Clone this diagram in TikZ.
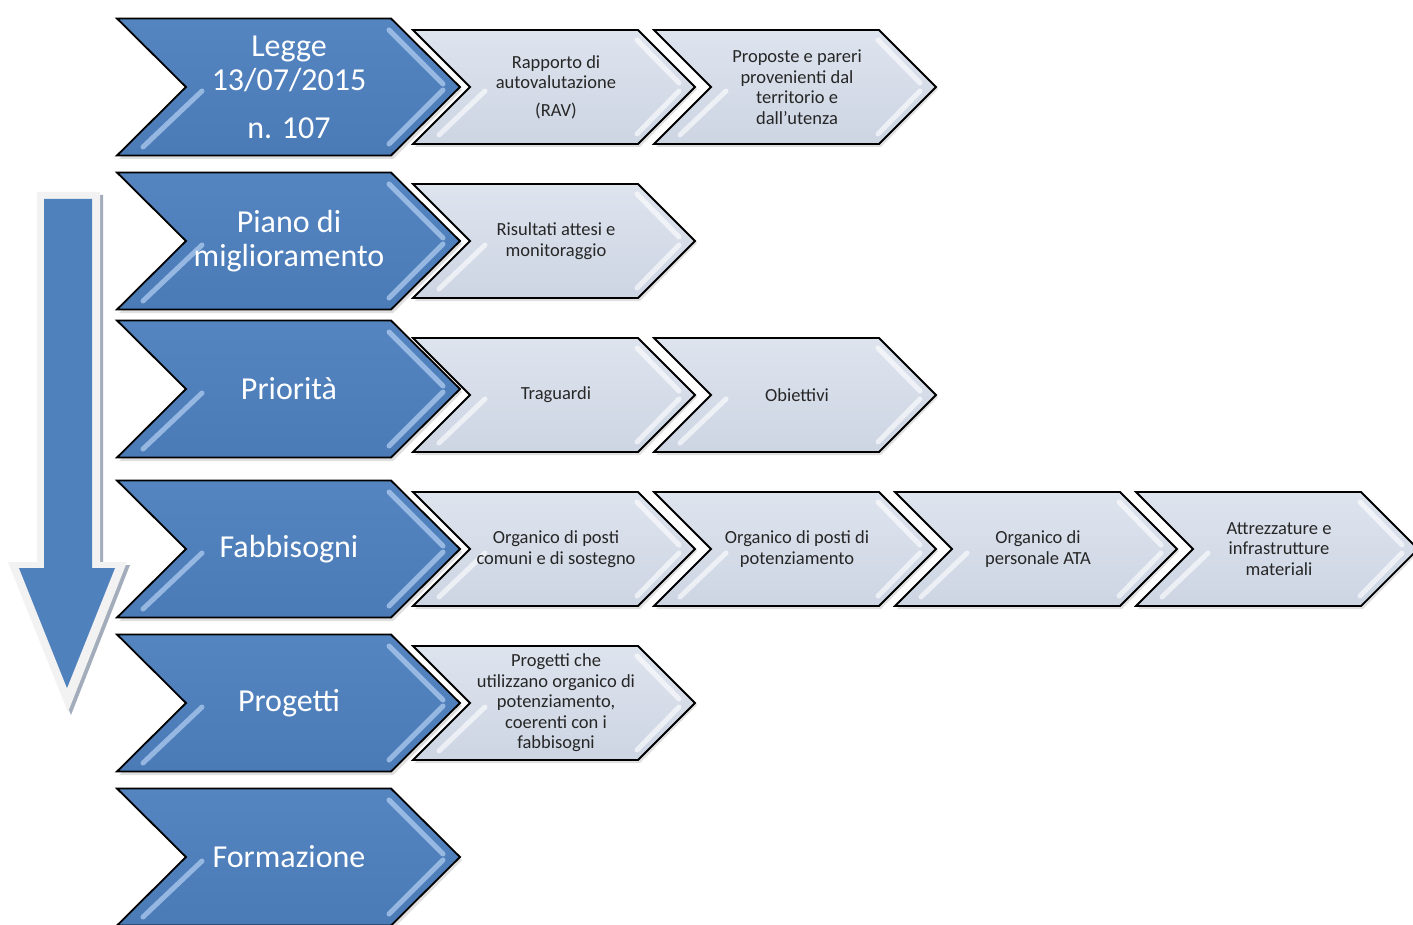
\documentclass[tikz,border=0pt]{standalone}
\usepackage{fontspec}
\setmainfont{Carlito}
\usetikzlibrary{calc}
\definecolor{cblue}{HTML}{4F81BD}
\definecolor{cbluetop}{HTML}{5585C1}
\definecolor{cbluebot}{HTML}{4A7BB7}
\definecolor{chigh}{HTML}{B4D0F2}
\definecolor{ltop}{HTML}{DEE4EE}
\definecolor{lbot}{HTML}{CDD5E3}
\definecolor{ctext}{HTML}{262626}
\definecolor{arrborder}{HTML}{F2F2F2}
\definecolor{arrshadow}{HTML}{A3ACBA}
\tikzset{
  bigchev/.style={draw=black,line width=1.8pt,line join=miter,top color=cbluetop,bottom color=cbluebot},
  smallchev/.style={draw=black,line width=1.8pt,line join=miter,top color=ltop,bottom color=lbot},
  chevshadow/.style={fill=black,opacity=0.12},
  bighl/.style={draw=chigh,line width=5pt,line cap=round,opacity=0.7},
  smallhl/.style={draw=white,line width=5pt,line cap=round,opacity=0.6},
  bigtext/.style={text=white,align=center,font=\fontsize{32}{34}\selectfont,inner sep=0pt},
  smalltext/.style={text=ctext,align=center,font=\fontsize{18.5}{20.5}\selectfont,inner sep=0pt}
}
% big chevron: #1 name, #2 centre y, #3 text
\newcommand\BigChev[3]{%
  \fill[chevshadow] (119,#2-66) -- (393,#2-66) -- (462,#2+3) -- (393,#2+72) -- (119,#2+72) -- (188,#2+3) -- cycle;
  \path[bigchev] (117,#2-68.5) -- (391,#2-68.5) -- (460,#2) -- (391,#2+68.5) -- (117,#2+68.5) -- (186,#2) -- cycle;
  \draw[bighl] (202,#2+4) -- (143,#2+60);
  \draw[bighl] (389,#2-57) -- (443,#2-3);
  \draw[bighl] (443,#2+3) -- (389,#2+57);
  \node[bigtext] (#1) at (289,#2) {#3};
}
% small chevron: #1 name, #2 left x, #3 centre y, #4 text
\newcommand\SmallChev[4]{%
  \fill[chevshadow] (#2+2,#3-55) -- (#2+227,#3-55) -- (#2+284,#3+2) -- (#2+227,#3+60) -- (#2+2,#3+60) -- (#2+59,#3+2) -- cycle;
  \path[smallchev] (#2,#3-57) -- (#2+225,#3-57) -- (#2+282,#3) -- (#2+225,#3+57) -- (#2,#3+57) -- (#2+57,#3) -- cycle;
  \draw[smallhl] (#2+72,#3+4) -- (#2+26,#3+48);
  \draw[smallhl] (#2+224,#3-47) -- (#2+266,#3-4);
  \draw[smallhl] (#2+266,#3+4) -- (#2+224,#3+47);
  \node[smalltext] (#1) at (#2+143,#3) {#4};
}
\begin{document}
\begin{tikzpicture}[x=1pt,y=-1pt]
\useasboundingbox[fill=white] (0,0) rectangle (1413,925);

% vertical arrow
\fill[arrshadow] (40,195) -- (103,195) -- (103,565) -- (130,565) -- (71,715) -- (11,565) -- (40,565) -- cycle;
\fill[arrborder] (37,192) -- (100,192) -- (100,562) -- (127,562) -- (68,712) -- (8,562) -- (37,562) -- cycle;
\fill[cblue] (44,199) -- (92,199) -- (92,568) -- (115,568) -- (67,688) -- (19,568) -- (44,568) -- cycle;

% row 1
\BigChev{legge}{87}{Legge\\13/07/2015\\[14pt]n. 107}
\SmallChev{rav}{413}{87}{Rapporto di\\autovalutazione\\[7pt](RAV)}
\SmallChev{proposte}{654}{87}{Proposte e pareri\\provenienti dal\\territorio e\\dall’utenza}

% row 2
\BigChev{piano}{241}{Piano di\\miglioramento}
\SmallChev{risultati}{413}{241}{Risultati attesi e\\monitoraggio}

% row 3
\BigChev{priorita}{389}{Priorità}
\SmallChev{traguardi}{413}{395}{Traguardi}
\SmallChev{obiettivi}{654}{395}{Obiettivi}

% row 4
\BigChev{fabbisogni}{549}{Fabbisogni}
\SmallChev{orgcomuni}{413}{549}{Organico di posti\\comuni e di sostegno}
\SmallChev{orgpot}{654}{549}{Organico di posti di\\potenziamento}
\SmallChev{orgata}{895}{549}{Organico di\\personale ATA}
\SmallChev{attrezz}{1136}{549}{Attrezzature e\\infrastrutture\\materiali}

% row 5
\BigChev{progetti}{703}{Progetti}
\SmallChev{progdesc}{413}{703}{Progetti che\\utilizzano organico di\\potenziamento,\\coerenti con i\\fabbisogni}

% row 6
\BigChev{formazione}{857}{Formazione}
\end{tikzpicture}
\end{document}
